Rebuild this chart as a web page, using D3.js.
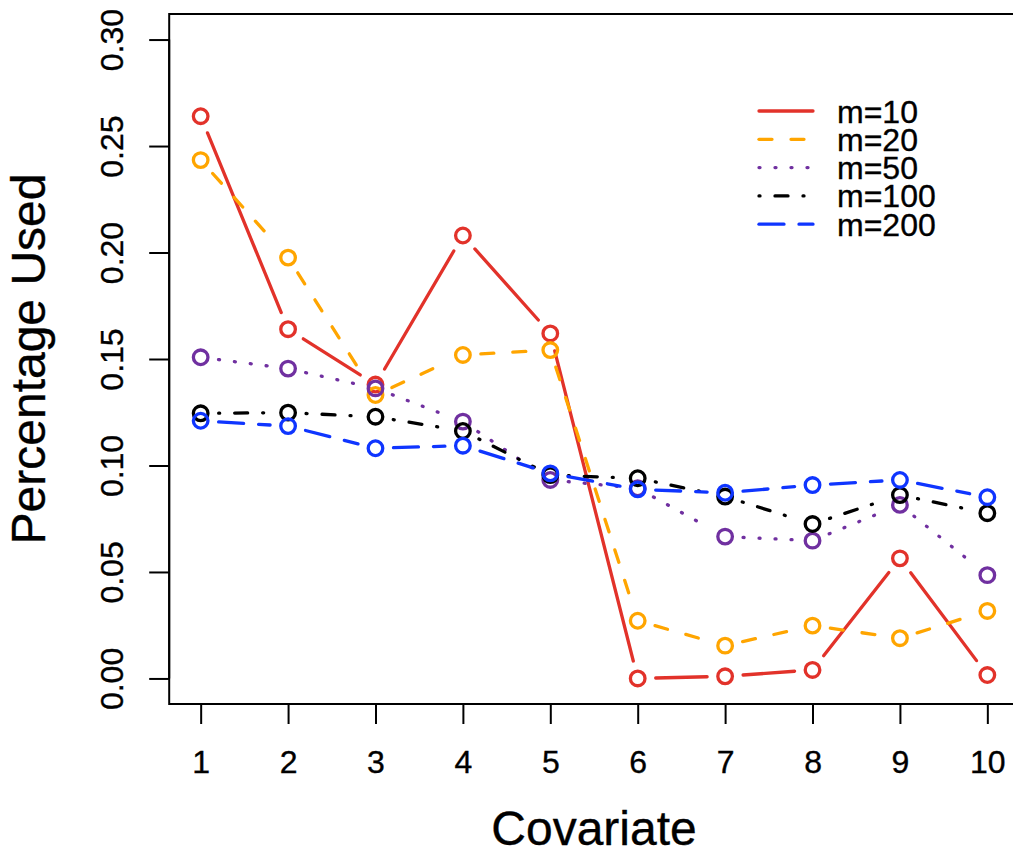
<!DOCTYPE html>
<html><head><meta charset="utf-8">
<script src="https://cdn.jsdelivr.net/npm/d3@7"></script>
<style>html,body{margin:0;padding:0;background:#fff;}svg{display:block;font-family:"Liberation Sans",Arial,sans-serif;}
text{stroke:#000;stroke-width:0.35px;}</style>
</head><body><svg id="c" width="1013" height="854"></svg>
<script>
const covariates = [1,2,3,4,5,6,7,8,9,10];
const seriesNames = ["m=10","m=20","m=50","m=100","m=200"];
const m10  = [0.264,0.164,0.138,0.208,0.162,0.000,0.001,0.004,0.0564,0.0016];
const m20  = [0.2434,0.1976,0.1331,0.1519,0.1542,0.0271,0.0154,0.0248,0.0189,0.0317];
const m50  = [0.1508,0.1455,0.1362,0.1206,0.0932,0.0893,0.0666,0.0647,0.0815,0.0485];
const m100 = [0.1245,0.1248,0.1229,0.1162,0.0955,0.0940,0.0854,0.0725,0.0861,0.0776];
const m200 = [0.1210,0.1185,0.1081,0.1093,0.0963,0.0888,0.0872,0.0908,0.0932,0.0851];
const yTicks = [0.00,0.05,0.10,0.15,0.20,0.25,0.30];
const colors = ["#E2322A","#FFA500","#7030A0","#000000","#0F35FF"];
const dashes = ["none","13,19","1,15","1,15,13,15","25,15"];
const seriesValues = [m10,m20,m50,m100,m200];

const svg = d3.select("#c");
const x = d3.scaleLinear().domain([0.64,10.36]).range([169.2,1018.8]);
const y = d3.scaleLinear().domain([-0.012,0.312]).range([704,14]);

// box
svg.append("rect").attr("x",x(0.64)).attr("y",y(0.312))
  .attr("width",x(10.36)-x(0.64)).attr("height",y(-0.012)-y(0.312))
  .attr("fill","none").attr("stroke","#000").attr("stroke-width",2);

// axes
const yAxis = d3.axisLeft(y).tickValues(yTicks).tickSize(20).tickPadding(0).tickFormat(d3.format(".2f"));
const gy = svg.append("g").attr("transform",`translate(${x(0.64)},0)`).call(yAxis);
gy.select(".domain").attr("d",`M0,${y(0)}V${y(0.30)}`).attr("stroke-width",2);
gy.selectAll(".tick line").attr("stroke-width",2);
gy.selectAll(".tick text").attr("transform","rotate(-90)").attr("x",0).attr("y",-46)
  .attr("dy",0).attr("text-anchor","middle").attr("font-size",32).attr("fill","#000")
  .attr("font-family","Liberation Sans, Arial, sans-serif");

const xAxis = d3.axisBottom(x).tickValues(covariates).tickSize(20).tickPadding(0).tickFormat(d3.format("d"));
const gx = svg.append("g").attr("transform",`translate(0,${y(-0.012)})`).call(xAxis);
gx.select(".domain").attr("d",`M${x(1)},0H${x(10)}`).attr("stroke-width",2);
gx.selectAll(".tick line").attr("stroke-width",2);
gx.selectAll(".tick text").attr("y",69).attr("dy",0).attr("font-size",32).attr("fill","#000")
  .attr("font-family","Liberation Sans, Arial, sans-serif");

// axis titles
svg.append("text").attr("x",594).attr("y",845).attr("text-anchor","middle")
  .attr("font-size",48).text("Covariate");
svg.append("text").attr("transform",`translate(45,${(y(-0.012)+y(0.312))/2}) rotate(-90)`)
  .attr("text-anchor","middle").attr("font-size",48).text("Percentage Used");

// series
const gap = 18;
seriesValues.forEach((vals,si)=>{
  const g = svg.append("g");
  const pts = vals.map((v,i)=>[x(covariates[i]),y(v)]);
  for(let i=0;i<pts.length-1;i++){
    const [x1,y1]=pts[i],[x2,y2]=pts[i+1];
    const dx=x2-x1, dy=y2-y1, L=Math.hypot(dx,dy);
    if(L<=2*gap) continue;
    const ux=dx/L, uy=dy/L;
    g.append("line").attr("x1",x1+ux*gap).attr("y1",y1+uy*gap)
      .attr("x2",x2-ux*gap).attr("y2",y2-uy*gap)
      .attr("stroke",colors[si]).attr("stroke-width",3.3)
      .attr("stroke-dasharray",dashes[si]).attr("stroke-linecap","round");
  }
  g.selectAll("circle").data(vals).join("circle")
    .attr("cx",(d,i)=>x(covariates[i])).attr("cy",d=>y(d)).attr("r",7.3)
    .attr("fill","none").attr("stroke",colors[si]).attr("stroke-width",3.3);
});

// legend
const leg = svg.append("g");
seriesNames.forEach((n,i)=>{
  const ly = 111 + i*28.3;
  leg.append("line").attr("x1",759).attr("x2",813).attr("y1",ly).attr("y2",ly)
    .attr("stroke",colors[i]).attr("stroke-width",3.3)
    .attr("stroke-dasharray",dashes[i]).attr("stroke-linecap","round");
  leg.append("text").attr("x",837).attr("y",ly).attr("dy","0.36em")
    .attr("font-size",32).text(n);
});
</script></body></html>
